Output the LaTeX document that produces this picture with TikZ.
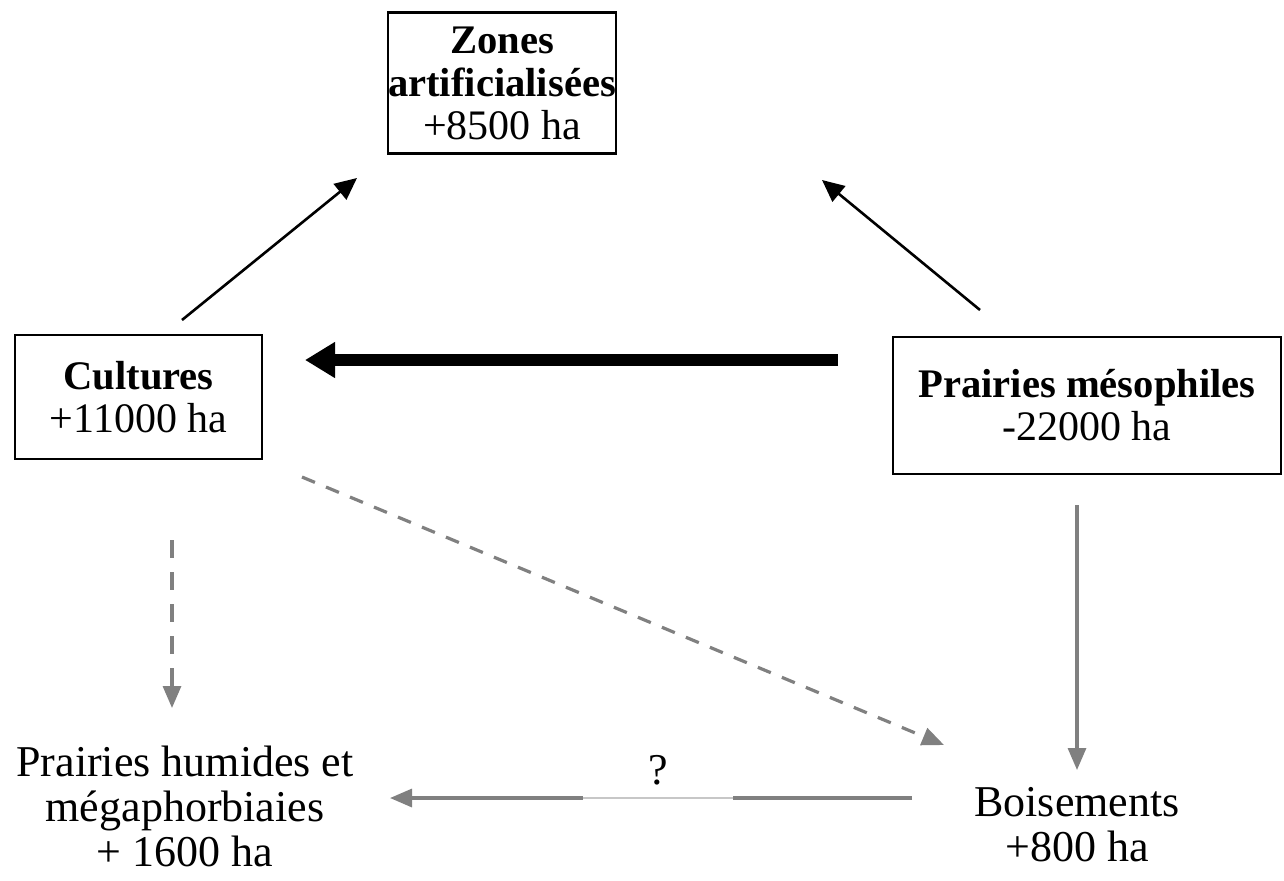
\documentclass[tikz,border=0pt]{standalone}
\usepackage{fontspec}
\setmainfont{Liberation Serif}
\usetikzlibrary{arrows.meta}
\begin{document}
\begin{tikzpicture}[x=0.5pt,y=-0.5pt]
\tikzset{
  box/.style={draw, line width=1.4pt, align=center, inner sep=0pt, font=\fontsize{21}{21.5}\selectfont},
  plainlbl/.style={align=center, inner sep=0pt, font=\fontsize{22}{22.5}\selectfont},
  blk/.style={line width=1.3pt, -{Triangle[length=11pt,width=10pt]}},
  thick arrow/.style={line width=6pt, -{Triangle[length=15pt,width=17pt]}},
  gry/.style={draw=gray, line width=1.6pt, -{Triangle[length=11pt,width=9pt]}},
  gryline/.style={draw=gray, line width=1.6pt},
  faint/.style={draw=black!22, line width=0.6pt},
  dashv/.style={dash pattern=on 9pt off 7pt},
  dashd/.style={dash pattern=on 7pt off 6pt},
}
\newcommand{\bx}[1]{{\fontsize{20.3}{21.5}\selectfont\bfseries #1}}
\useasboundingbox (0,0) rectangle (1284,880);

% nodes
\node[box, minimum width=114pt, minimum height=70.5pt] (zones) at (502,83)
  {\bx{Zones}\\\bx{artificialisées}\\+8500 ha};
\node[box, minimum width=123.5pt, minimum height=62pt] (cultures) at (138.5,397)
  {\bx{Cultures}\\+11000 ha};
\node[box, minimum width=194pt, minimum height=68.5pt] (meso) at (1087,405.5)
  {\bx{Prairies mésophiles}\\-22000 ha};
\node[plainlbl] (humides) at (185,806) {Prairies humides et\\mégaphorbiaies\\+ 1600 ha};
\node[plainlbl] (bois) at (1077,825) {Boisements\\+800 ha};
\node[plainlbl] (q) at (658,770) {?};

% connector end points
\coordinate (c1) at (182,320);
\coordinate (z1) at (357,178);
\coordinate (m1) at (980,310);
\coordinate (z2) at (822,180);
\coordinate (m2) at (838,360);
\coordinate (c2) at (305,360);
\coordinate (c3) at (172,540);
\coordinate (h1) at (172,708);
\coordinate (c4) at (302,477);
\coordinate (b1) at (944,745);
\coordinate (m3) at (1077,505);
\coordinate (b2) at (1077,770);
\coordinate (b3) at (912,798);
\coordinate (qr) at (733,798);
\coordinate (ql) at (583,798);
\coordinate (h2) at (390,798);

% connectors
\draw[blk] (c1) -- (z1);
\draw[blk] (m1) -- (z2);
\draw[thick arrow] (m2) -- (c2);
\draw[gry, dashv] (c3) -- (h1);
\draw[gry, dashd] (c4) -- (b1);
\draw[gry] (m3) -- (b2);
\draw[gryline] (b3) -- (qr);
\draw[faint] (qr) -- (ql);
\draw[gry] (ql) -- (h2);
\end{tikzpicture}
\end{document}
